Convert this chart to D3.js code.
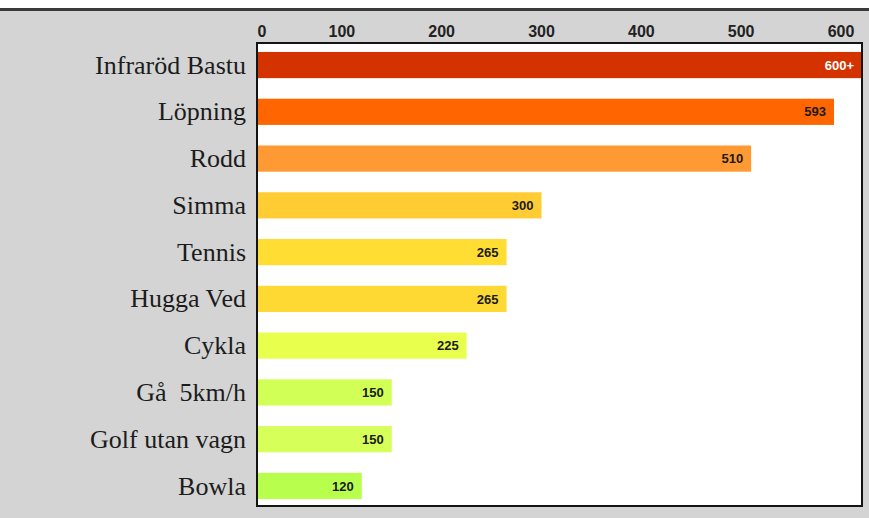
<!DOCTYPE html>
<html>
<head>
<meta charset="utf-8">
<script src="https://cdn.jsdelivr.net/npm/d3@7"></script>
<style>
  html, body { margin: 0; padding: 0; background: #d4d4d4; }
  svg { display: block; }
  .cat { white-space: pre; }
</style>
</head>
<body>
<svg id="chart"></svg>
<script>
// data
const categories = ["Infraröd Bastu", "Löpning", "Rodd", "Simma", "Tennis",
    "Hugga Ved", "Cykla", "Gå  5km/h", "Golf utan vagn", "Bowla"];
const values = [600, 593, 510, 300, 265, 265, 225, 150, 150, 120];
const valueLabels = ["600+", "593", "510", "300", "265", "265", "225", "150", "150", "120"];
const barColors = ["#d43300", "#ff6600", "#ff9933", "#ffcc33", "#ffdd33",
    "#ffd933", "#e8ff4d", "#d2ff55", "#d6ff5a", "#b8ff4d"];
const tickValues = [0, 100, 200, 300, 400, 500, 600];

const width = 869, height = 518;
const frame = { left: 257, right: 862, top: 43, bottom: 506 };

const svg = d3.select('#chart')
    .attr('width', width)
    .attr('height', height);

// page background: white strip, dark rule, grey panel
svg.append('rect').attr('x', 0).attr('y', 0).attr('width', width).attr('height', height).attr('fill', '#d4d4d4');
svg.append('rect').attr('x', 0).attr('y', 0).attr('width', width).attr('height', 8).attr('fill', '#ffffff');
svg.append('rect').attr('x', 0).attr('y', 8).attr('width', width).attr('height', 3).attr('fill', '#3a3a3a');

const x = d3.scaleLinear()
    .domain([0, 600])
    .range([242, 841]);

const y = d3.scaleBand()
    .domain(categories)
    .range([frame.top + 1, frame.bottom + 1])
    .paddingInner(0.44)
    .paddingOuter(0.17);

// plot area
svg.append('rect')
    .attr('x', frame.left)
    .attr('y', frame.top)
    .attr('width', frame.right - frame.left)
    .attr('height', frame.bottom - frame.top)
    .attr('fill', '#ffffff');

const rows = categories.map((c, i) => ({
    name: c,
    value: values[i],
    label: valueLabels[i],
    color: barColors[i],
    open: valueLabels[i].endsWith('+')
}));

const barEnd = d => d.open ? frame.right : x(d.value);

svg.append('g')
    .selectAll('rect')
    .data(rows)
    .enter()
    .append('rect')
    .attr('x', frame.left)
    .attr('y', d => y(d.name))
    .attr('width', d => barEnd(d) - frame.left)
    .attr('height', y.bandwidth())
    .attr('fill', d => d.color);

svg.append('g')
    .selectAll('text')
    .data(rows)
    .enter()
    .append('text')
    .attr('x', d => barEnd(d) - 8)
    .attr('y', d => y(d.name) + y.bandwidth() / 2)
    .attr('dy', '0.36em')
    .attr('text-anchor', 'end')
    .attr('font-family', '"Liberation Sans", Arial, sans-serif')
    .attr('font-weight', 'bold')
    .attr('font-size', 13)
    .attr('fill', d => d.open ? '#ffffff' : '#1a1a1a')
    .text(d => d.label);

// frame
svg.append('rect')
    .attr('x', frame.left)
    .attr('y', frame.top)
    .attr('width', frame.right - frame.left)
    .attr('height', frame.bottom - frame.top)
    .attr('fill', 'none')
    .attr('stroke', '#141414')
    .attr('stroke-width', 2);

// category labels
svg.append('g')
    .selectAll('text')
    .data(rows)
    .enter()
    .append('text')
    .attr('class', 'cat')
    .attr('x', 246)
    .attr('y', d => y(d.name) + y.bandwidth() / 2)
    .attr('dy', '0.33em')
    .attr('text-anchor', 'end')
    .attr('font-family', '"Liberation Serif", "Times New Roman", serif')
    .attr('font-size', 26)
    .attr('fill', '#1c1c1c')
    .text(d => d.name);

// top axis
const axis = svg.append('g')
    .attr('transform', 'translate(0, 37)')
    .call(d3.axisTop(x).tickValues(tickValues).tickSize(0).tickPadding(0));

axis.select('.domain').remove();
axis.selectAll('.tick')
    .attr('transform', d => `translate(${Math.max(x(d), frame.left + 5)}, 0)`);
axis.selectAll('text')
    .attr('font-family', '"Liberation Sans", Arial, sans-serif')
    .attr('font-weight', 'bold')
    .attr('font-size', 16)
    .attr('fill', '#222');
</script>
</body>
</html>
